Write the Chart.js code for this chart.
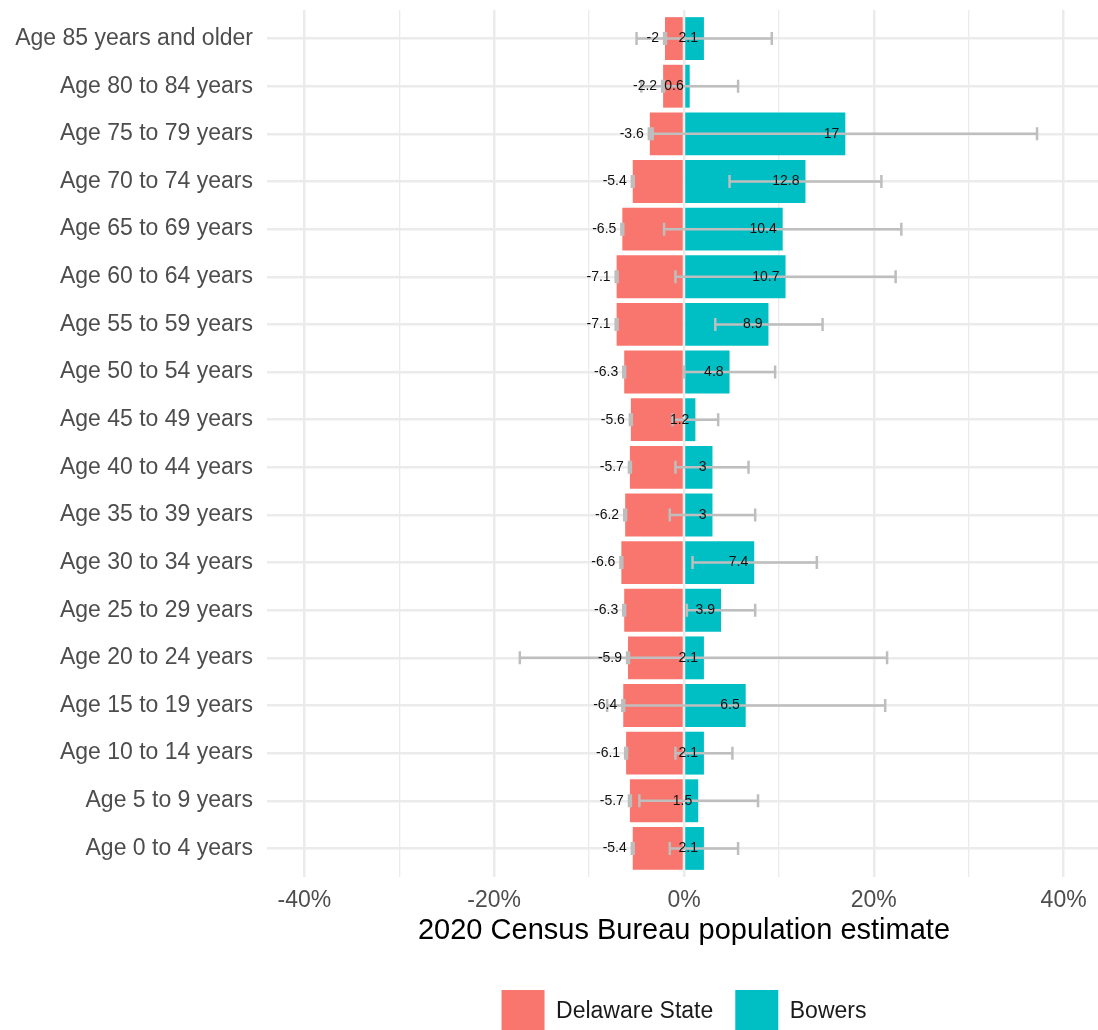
<!DOCTYPE html>
<html>
<head>
<meta charset="utf-8">
<script src="https://cdn.jsdelivr.net/npm/chart.js@4"></script>
<style>
  html, body { margin: 0; padding: 0; background: #fff; overflow: hidden; }
  #wrap { position: absolute; left: 0; top: 0; width: 1101px; height: 1043px; }
</style>
</head>
<body>
<div id="wrap"><canvas id="pyramid"></canvas></div>
<script>
// age groups, top to bottom
const ageGroups = [
  "Age 85 years and older", "Age 80 to 84 years", "Age 75 to 79 years", "Age 70 to 74 years",
  "Age 65 to 69 years", "Age 60 to 64 years", "Age 55 to 59 years", "Age 50 to 54 years",
  "Age 45 to 49 years", "Age 40 to 44 years", "Age 35 to 39 years", "Age 30 to 34 years",
  "Age 25 to 29 years", "Age 20 to 24 years", "Age 15 to 19 years", "Age 10 to 14 years",
  "Age 5 to 9 years", "Age 0 to 4 years"
];

// percent of population (Delaware drawn to the left)
const delaware = [-2, -2.2, -3.6, -5.4, -6.5, -7.1, -7.1, -6.3, -5.6, -5.7, -6.2, -6.6, -6.3, -5.9, -6.4, -6.1, -5.7, -5.4];
const bowers = [2.1, 0.6, 17, 12.8, 10.4, 10.7, 8.9, 4.8, 1.2, 3, 3, 7.4, 3.9, 2.1, 6.5, 2.1, 1.5, 2.1];

// margins of error (low / high ends)
const delawareMoe = [0.1, 0.1, 0.1, 0.1, 0.1, 0.1, 0.1, 0.1, 0.1, 0.1, 0.1, 0.1, 0.1, 0.1, 0.1, 0.1, 0.1, 0.1];
const bowersLow = [-5.0, -4.5, -3.3, 4.8, -2.1, -0.9, 3.3, 0.0, -1.2, -0.9, -1.5, 0.9, 0.3, -17.3, -8.1, -0.9, -4.7, -1.5];
const bowersHigh = [9.25, 5.7, 37.2, 20.8, 22.9, 22.3, 14.6, 9.6, 3.6, 6.8, 7.5, 14.0, 7.5, 21.4, 21.2, 5.1, 7.8, 5.7];

const tickValues = [-40, -20, 0, 20, 40];

// error bars + value labels
const extrasPlugin = {
  id: "extras",
  afterDatasetsDraw(chart) {
    const ctx = chart.ctx;
    const x = chart.scales.x, y = chart.scales.y;
    ctx.save();
    ctx.strokeStyle = "#bebebe";
    ctx.lineWidth = 2.5;
    const cap = 6.5;
    function errbar(lo, hi, i) {
      const yy = y.getPixelForValue(i);
      const x1 = x.getPixelForValue(lo), x2 = x.getPixelForValue(hi);
      ctx.beginPath();
      ctx.moveTo(x1, yy); ctx.lineTo(x2, yy);
      ctx.moveTo(x1, yy - cap); ctx.lineTo(x1, yy + cap);
      ctx.moveTo(x2, yy - cap); ctx.lineTo(x2, yy + cap);
      ctx.stroke();
    }
    ageGroups.forEach((g, i) => {
      errbar(delaware[i] - delawareMoe[i], delaware[i] + delawareMoe[i], i);
      errbar(bowersLow[i], bowersHigh[i], i);
    });

    ctx.font = "14px 'Liberation Sans', Arial, sans-serif";
    ctx.fillStyle = "#111";
    ctx.textAlign = "right";
    ctx.textBaseline = "middle";
    chart.data.datasets.forEach((ds, d) => {
      chart.getDatasetMeta(d).data.forEach((bar, i) => {
        ctx.fillText(String(ds.data[i]), bar.x - 6, bar.y);
      });
    });
    ctx.restore();
  }
};

new Chart(document.getElementById("pyramid"), {
  type: "bar",
  data: {
    labels: ageGroups,
    datasets: [
      { label: "Delaware State", data: delaware, backgroundColor: "#F8766D", borderWidth: 0 },
      { label: "Bowers", data: bowers, backgroundColor: "#00BFC4", borderWidth: 0 }
    ]
  },
  options: {
    indexAxis: "y",
    responsive: true,
    maintainAspectRatio: false,
    animation: false,
    layout: { padding: { top: 10, left: 0, right: 0, bottom: 0 } },
    datasets: { bar: { barPercentage: 0.9, categoryPercentage: 1.0 } },
    plugins: {
      tooltip: { enabled: false },
      legend: {
        position: "bottom",
        fullSize: false,
        labels: {
          boxWidth: 43, boxHeight: 43, padding: 22,
          color: "#1a1a1a",
          font: { family: "'Liberation Sans', Arial, sans-serif", size: 23 }
        }
      }
    },
    scales: {
      x: {
        stacked: true,
        min: -43.94, max: 43.94,
        border: { display: false },
        grid: {
          drawTicks: false,
          color: "#ebebeb",
          lineWidth: ctx => (ctx.tick && tickValues.includes(ctx.tick.value)) ? 2.5 : 1.3
        },
        ticks: {
          stepSize: 10,
          includeBounds: false,
          autoSkip: false,
          maxRotation: 0,
          padding: 10,
          color: "#4d4d4d",
          font: { family: "'Liberation Sans', Arial, sans-serif", size: 23 },
          callback: v => tickValues.includes(v) ? v + "%" : ""
        },
        title: {
          display: true,
          text: "2020 Census Bureau population estimate",
          color: "#000",
          padding: { top: 0, bottom: 20 },
          font: { family: "'Liberation Sans', Arial, sans-serif", size: 29 }
        },
        afterFit: s => { s.height = 91; }
      },
      y: {
        stacked: true,
        border: { display: false },
        grid: { drawTicks: false, offset: false, color: "#ebebeb", lineWidth: 2.5 },
        ticks: {
          padding: 14,
          color: "#4d4d4d",
          font: { family: "'Liberation Sans', Arial, sans-serif", size: 23 }
        },
        afterBuildTicks: s => {
          // ggplot-style discrete expansion of 0.6 per side
          s._startValue = -0.6;
          s._valueRange = ageGroups.length - 1 + 1.2;
        },
        afterFit: s => { s.width = 267; s.paddingTop = 0; s.paddingBottom = 0; }
      }
    }
  },
  plugins: [extrasPlugin]
});
</script>
</body>
</html>
